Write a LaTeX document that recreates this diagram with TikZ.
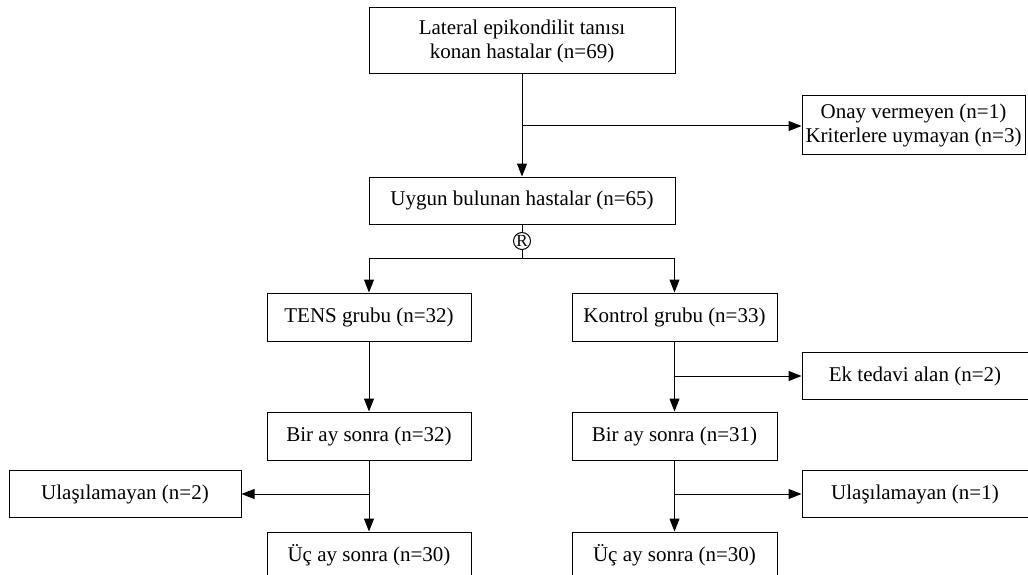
\documentclass[tikz,border=0pt]{standalone}
\usepackage{fontspec}
\setmainfont{Liberation Serif}
\usetikzlibrary{arrows.meta,positioning,calc}
\begin{document}
\begin{tikzpicture}[x=1pt,y=-1pt,
  box/.style={draw,line width=1pt,fill=white,inner sep=0pt,align=center,font=\fontsize{21}{24}\selectfont},
  conn/.style={line width=1pt},
  arr/.style={conn,-{Triangle[length=13pt,width=10pt]}}]
\useasboundingbox (0,0) rectangle (1028,575);
\clip (0,0) rectangle (1028,575);
\fill[white] (0,0) rectangle (1028,575);
% boxes
\node[box,minimum width=306pt,minimum height=66pt] (top) at (522,41) {Lateral epikondilit tanısı\\konan hastalar (n=69)};
\node[box,minimum width=223pt,minimum height=59pt] (onay) at (913.5,125.5) {Onay vermeyen (n=1)\\Kriterlere uymayan (n=3)};
\node[box,minimum width=306pt,minimum height=47pt] (uygun) at (522,200.5) {Uygun bulunan hastalar (n=65)};
\node[draw,circle,line width=1pt,inner sep=0pt,minimum size=17pt,font=\fontsize{17}{17}\selectfont] (R) at (522,241) {R};
\node[box,minimum width=204pt,minimum height=48pt] (tens) at (369,317) {TENS grubu (n=32)};
\node[box,minimum width=205pt,minimum height=48pt] (kontrol) at (674.5,317) {Kontrol grubu (n=33)};
\node[box,minimum width=226pt,minimum height=47pt] (ek) at (915,376) {Ek tedavi alan (n=2)};
\node[box,minimum width=204pt,minimum height=48pt] (bir1) at (369,436) {Bir ay sonra (n=32)};
\node[box,minimum width=205pt,minimum height=48pt] (bir2) at (674.5,436) {Bir ay sonra (n=31)};
\node[box,minimum width=232pt,minimum height=47pt] (ul2) at (125,494) {Ulaşılamayan (n=2)};
\node[box,minimum width=226pt,minimum height=47pt] (ul1) at (915,494) {Ulaşılamayan (n=1)};
\node[box,minimum width=204pt,minimum height=47pt] (uc1) at (369,555.5) {Üç ay sonra (n=30)};
\node[box,minimum width=205pt,minimum height=47pt] (uc2) at (674.5,555.5) {Üç ay sonra (n=30)};
% connectors
\draw[arr] (top.south) -- (uygun.north);
\coordinate (b1) at (522,126);
\draw[arr] (b1) -- (b1 -| onay.west);
\draw[conn] (uygun.south) -- (R.north);
\coordinate (split) at (522,258);
\draw[conn] (R.south) -- (split);
\draw[arr] (split) -| (tens.north);
\draw[arr] (split) -| (kontrol.north);
\draw[arr] (tens.south) -- (bir1.north);
\draw[arr] (kontrol.south) -- (bir2.north);
\coordinate (b2) at (674.5,376);
\draw[arr] (b2) -- (ek.west);
\draw[arr] (bir1.south) -- (uc1.north);
\draw[arr] (bir2.south) -- (uc2.north);
\coordinate (b3) at (369,494);
\draw[arr] (b3) -- (ul2.east);
\coordinate (b4) at (674.5,494);
\draw[arr] (b4) -- (ul1.west);
\end{tikzpicture}
\end{document}
